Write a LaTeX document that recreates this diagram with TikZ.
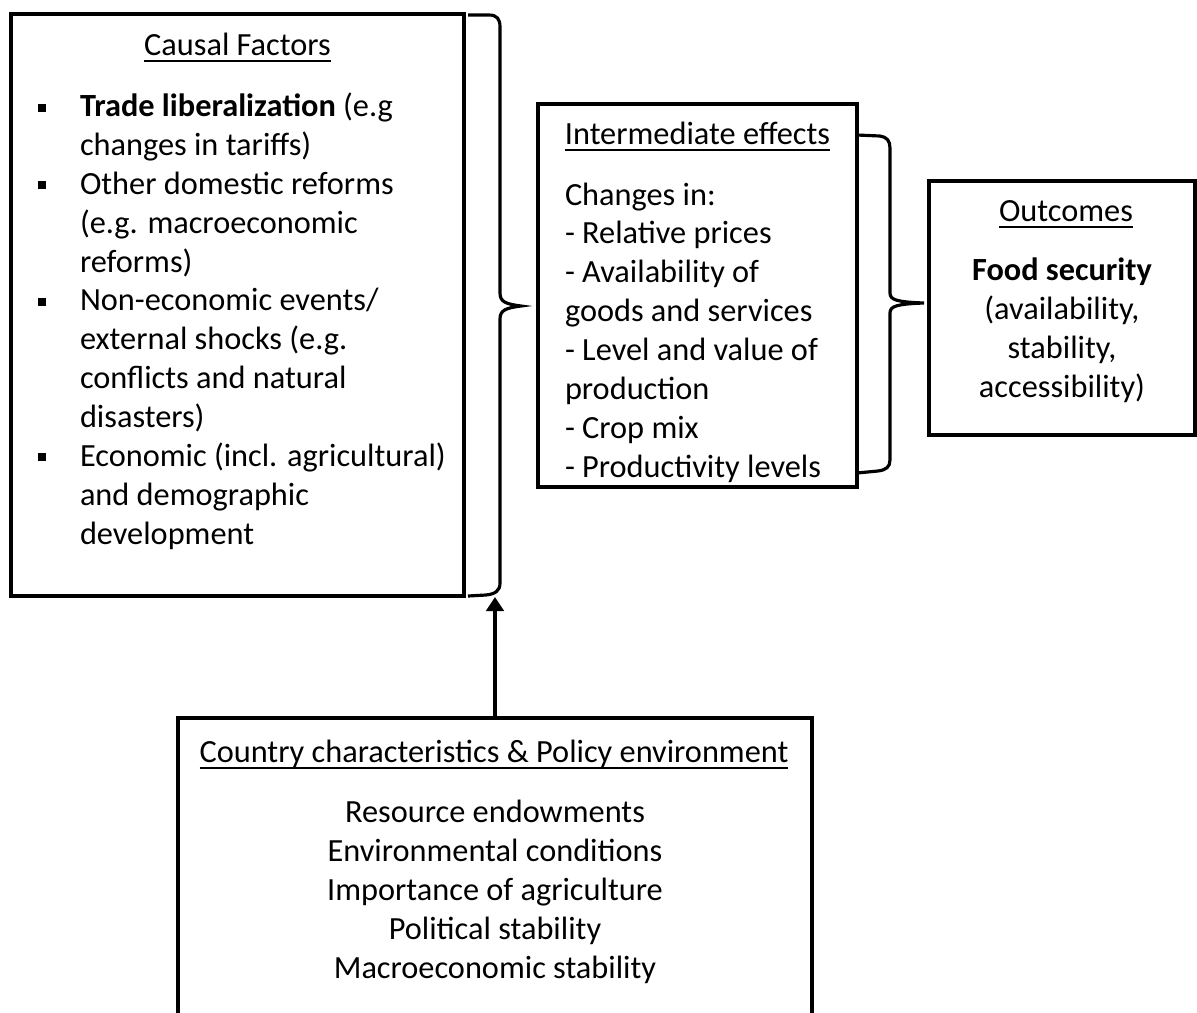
\documentclass[tikz,border=0pt]{standalone}
\usepackage{fontspec}
\setmainfont{Carlito}
\usetikzlibrary{arrows.meta}
\newsavebox\ulbox
\newcommand\myul[1]{\sbox\ulbox{#1}\rlap{\rule[-4.2pt]{\wd\ulbox}{1.3pt}}\usebox\ulbox}
\newcommand\sqbul{\leavevmode\llap{\rule[2.9pt]{4.6pt}{4.6pt}\hspace{19.3pt}}}
\newcommand\bodyfont{\fontsize{18.4}{22.11}\selectfont}
\tikzset{
  txt/.style={font=\bodyfont, inner sep=0pt, outer sep=0pt},
  boxline/.style={line width=1.8pt, line join=miter},
  brc/.style={line width=1.8pt, line cap=butt},
  arr/.style={line width=1.8pt, -{Triangle[length=8pt,width=10pt]}}
}
\begin{document}
\begin{tikzpicture}[x=0.02cm,y=-0.02cm]
\fill[white] (0,0) rectangle (1197,1012);
\useasboundingbox (0,0) rectangle (1197,1012);

% Causal factors box
\draw[boxline] (11,14) rectangle (464,596);
\node[txt, anchor=base] (cftitle) at (237.5,55) {\myul{Causal Factors}};
% anchor base = baseline of last line
\node[txt, anchor=base west, align=left] (cflist) at (80,544) {%
\sqbul\textbf{Trade liberalization} (e.g\\
changes in tariffs)\\
\sqbul Other domestic reforms\\
(e.g. macroeconomic\\
reforms)\\
\sqbul Non-economic events/\\
external shocks (e.g.\\
conflicts and natural\\
disasters)\\
\sqbul Economic (incl. agricultural)\\
and demographic\\
development};

% Brace 1
\coordinate (b1top) at (468,15);
\coordinate (b1tip) at (521,306);
\coordinate (b1bot) at (468,596);
\coordinate (arrowtip) at (495,597);
\draw[brc] (b1top) -- (489,15) .. controls (497,15) and (500,19) .. (500,27)
  -- (500,293) .. controls (500,302) and (506,304) .. (b1tip)
  .. controls (506,308) and (500,310) .. (500,319)
  -- (500,583) .. controls (500,591) and (495,594) .. (486,595) -- (b1bot);

% Intermediate effects box
\draw[boxline] (538,104) rectangle (857,487);
\node[txt, anchor=base] (ietitle) at (697.5,144) {\myul{Intermediate effects}};
\node[txt, anchor=base west, align=left] (ielist) at (565,477) {%
Changes in:\\
- Relative prices\\
- Availability of\\
goods and services\\
- Level and value of\\
production\\
- Crop mix\\
- Productivity levels};

% Brace 2
\coordinate (b2top) at (857,135);
\coordinate (b2tip) at (924,303);
\coordinate (b2bot) at (857,473);
\draw[brc] (b2top) -- (880,136) .. controls (887,137) and (890,141) .. (890,148)
  -- (890,293) .. controls (890,300) and (897,302) .. (b2tip)
  .. controls (897,304) and (890,306) .. (890,313)
  -- (890,460) .. controls (890,467) and (886,470) .. (878,471) -- (b2bot);

% Outcomes box
\draw[boxline] (929,181) rectangle (1195,435);
\node[txt, anchor=base] (outtitle) at (1066,221) {\myul{Outcomes}};
\node[txt, anchor=base, align=center] (outtext) at (1062,397) {%
\textbf{Food security}\\
(availability,\\
stability,\\
accessibility)};

% Country characteristics box (open at bottom)
\coordinate (cctop) at (495,718);
\draw[boxline] (178,1014) -- (178,718) -- (812,718) -- (812,1014);
\node[txt, anchor=base] (cctitle) at (494,762) {\myul{Country characteristics \& Policy environment}};
\node[txt, anchor=base, align=center] (cclist) at (495,978) {%
Resource endowments\\
Environmental conditions\\
Importance of agriculture\\
Political stability\\
Macroeconomic stability};

% Arrow
\draw[arr] (cctop) -- (arrowtip);
\end{tikzpicture}
\end{document}
